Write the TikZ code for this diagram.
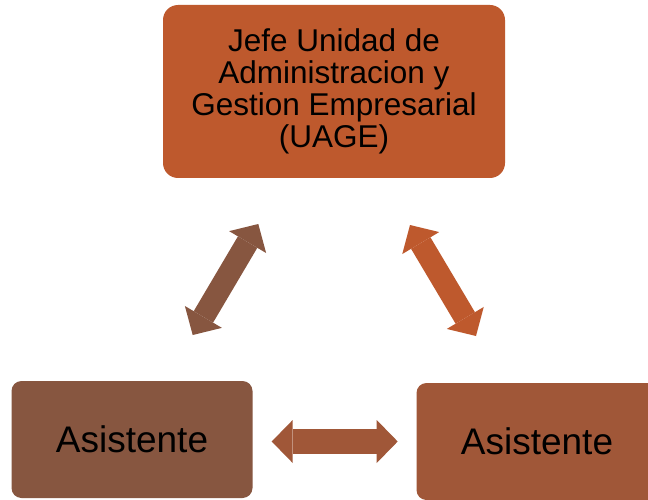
\documentclass[tikz,border=0pt]{standalone}
\usepackage{fontspec}
\setmainfont{Liberation Sans}
\usetikzlibrary{arrows.meta}
\definecolor{topc}{RGB}{190,89,45}
\definecolor{leftc}{RGB}{135,86,64}
\definecolor{rightc}{RGB}{160,87,56}
\tikzset{
  box/.style={rounded corners=#1, inner sep=0pt, text=black, align=center},
  fatarrow/.style={line width=#1, {Triangle[length=21pt 0 0,width=43pt 0 0,line width=0pt]}-{Triangle[length=21pt 0 0,width=43pt 0 0,line width=0pt]}}
}
\begin{document}
\begin{tikzpicture}[x=1pt,y=1pt]
\clip (0,0) rectangle (648,499);
\fill[white] (0,0) rectangle (648,499);
\node[box=15pt, fill=topc, minimum width=342pt, minimum height=173pt, font=\fontsize{31.5}{32}\selectfont] (jefe) at (334,407.5)
  {Jefe Unidad de\\Administracion y\\Gestion Empresarial\\(UAGE)};
\node[box=10pt, fill=leftc, minimum width=241pt, minimum height=117pt, font=\fontsize{37}{40}\selectfont] (asi1) at (132,59.5) {Asistente};
\node[box=10pt, fill=rightc, minimum width=241pt, minimum height=117pt, font=\fontsize{37}{40}\selectfont] (asi2) at (537,57.5) {Asistente};
\coordinate (l1) at (192.7,164);
\coordinate (l2) at (258.3,275);
\coordinate (r1) at (410,274);
\coordinate (r2) at (476,163);
\coordinate (h1) at (271.7,57.5);
\coordinate (h2) at (397.7,57.5);
\draw[fatarrow=22.5pt, leftc] (l1) -- (l2);
\draw[fatarrow=22.5pt, topc] (r1) -- (r2);
\draw[fatarrow=25pt, rightc] (h1) -- (h2);
\end{tikzpicture}
\end{document}
